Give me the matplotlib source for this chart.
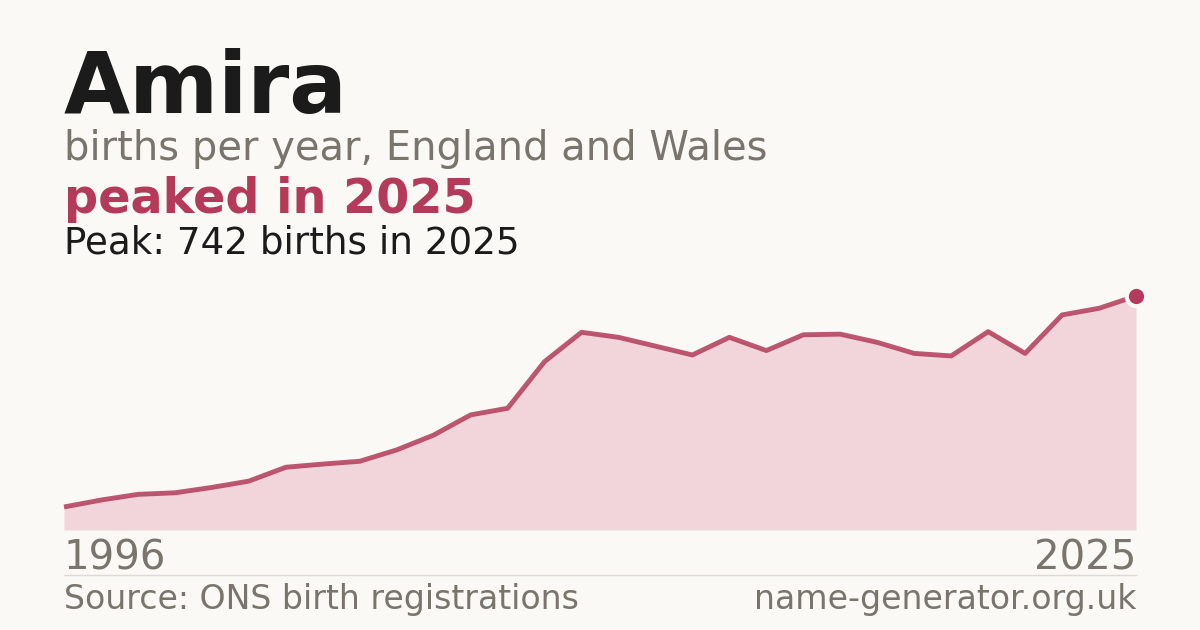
import matplotlib
matplotlib.use("Agg")
import matplotlib.pyplot as plt
import numpy as np

plt.rcParams["font.family"] = ["DejaVu Sans"]

# data
years = list(range(1996, 2026))
births = [73, 95, 113, 118, 135, 155, 199, 209, 218, 254,
          301, 365, 386, 534, 627, 611, 583, 555, 611, 569,
          619, 621, 595, 560, 552, 629, 560, 682, 703, 742]
name = "Amira"
subtitle = "births per year, England and Wales"
headline = "peaked in 2025"
peak_note = "Peak: 742 births in 2025"
source = "Source: ONS birth registrations"
site = "name-generator.org.uk"

W, H = 1200, 630
bg = "#faf9f5"
crimson = "#b33a58"
fill_col = "#f1d5da"
grey = "#79746c"
dark = "#1b1b1b"

fig = plt.figure(figsize=(W / 100, H / 100), dpi=100, facecolor=bg)

def py(y):
    # pixel row from the top -> figure fraction
    return 1 - y / H

# plot area
left, right, top, bottom = 64, 1136, 296, 530
ax = fig.add_axes([left / W, 1 - bottom / H, (right - left) / W, (bottom - top) / H])
ax.set_facecolor(bg)
ax.fill_between(years, births, 0, color=fill_col, lw=0)
ax.plot(years, births, color=crimson, lw=3.5, alpha=0.85, solid_capstyle="butt",
        clip_on=False)
ax.plot(years[-1], births[-1], "o", ms=14, color=crimson, mec=bg, mew=3,
        clip_on=False, zorder=5)
ax.set_xlim(years[0], years[-1])
ax.set_ylim(0, max(births))
ax.axis("off")

# header text
x0 = left / W
fig.text(x0, py(113), name, fontsize=61.5, fontweight="bold", color=dark, va="baseline")
fig.text(x0, py(160), subtitle, fontsize=28.8, color=grey, va="baseline")
fig.text(x0, py(213), headline, fontsize=34.4, fontweight="bold", color=crimson, va="baseline")
fig.text(x0, py(253), peak_note, fontsize=26.8, color=dark, va="baseline")

# year labels
fig.text(x0, py(570), str(years[0]), fontsize=29, color=grey, va="baseline")
fig.text(right / W, py(570), str(years[-1]), fontsize=29, color=grey,
         va="baseline", ha="right")

# separator
fig.add_artist(plt.Line2D([left / W, right / W], [py(574.5)] * 2,
                          color="#dddad4", lw=1))

# footer
fig.text(x0, py(609), source, fontsize=23.9, color=grey, va="baseline")
fig.text(right / W, py(609), site, fontsize=23.9, color=grey, va="baseline", ha="right")

fig.savefig("out.png", dpi=100, facecolor=bg)
